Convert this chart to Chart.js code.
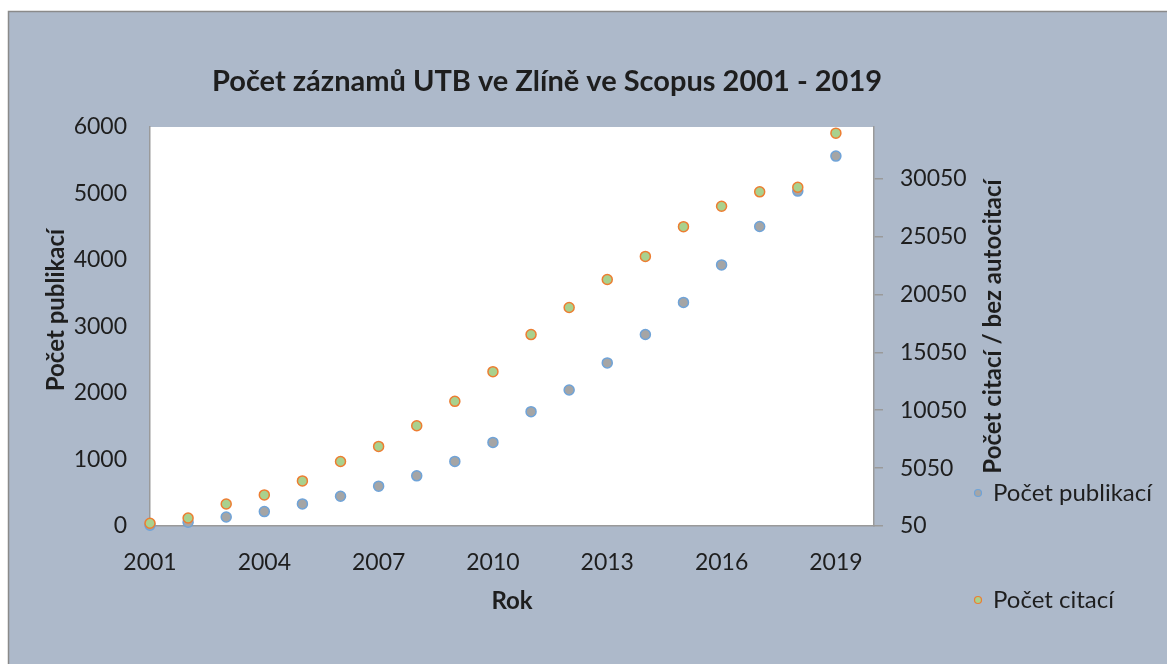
<!DOCTYPE html>
<html>
<head>
<meta charset="utf-8">
<script src="https://cdn.jsdelivr.net/npm/chart.js@4"></script>
<style>
  html, body { margin: 0; padding: 0; background: #fff; }
  #wrap { width: 1167px; height: 664px; }
</style>
</head>
<body>
<div id="wrap"><canvas id="scopusChart" width="1167" height="664"></canvas></div>
<script>
// data
const years = [2001, 2002, 2003, 2004, 2005, 2006, 2007, 2008, 2009, 2010,
               2011, 2012, 2013, 2014, 2015, 2016, 2017, 2018, 2019];
const publikace = [12, 56, 136, 217, 332, 448, 599, 754, 971, 1257,
                   1719, 2046, 2453, 2880, 3362, 3926, 4503, 5036, 5563];
const citace = [284, 742, 1954, 2732, 3943, 5623, 6921, 8703, 10815, 13376,
                16578, 18914, 21337, 23327, 25897, 27653, 28900, 29298, 33971];

// tick labels
const xTicks = [2001, 2004, 2007, 2010, 2013, 2016, 2019];
const leftTicks = [0, 1000, 2000, 3000, 4000, 5000, 6000];
const rightTicks = [50, 5050, 10050, 15050, 20050, 25050, 30050];

const titleText = 'Počet záznamů UTB ve Zlíně ve Scopus 2001 - 2019';
const leftTitle = 'Počet publikací';
const rightTitle = 'Počet citací / bez autocitací';
const legendLabels = ['Počet publikací', 'Počet citací'];

const FONT = 'Lato, "Open Sans", sans-serif';
const textColor = '#1e1e1e';
const axisColor = '#9a9a9a';

// frame, plot area, titles and legend
const decorations = {
    id: 'decorations',
    beforeDraw(chart) {
        const ctx = chart.ctx;
        const area = chart.chartArea;
        ctx.save();
        ctx.fillStyle = '#adb9ca';
        ctx.fillRect(8, 11, chart.width - 8, chart.height - 11);
        ctx.strokeStyle = '#8a8a8a';
        ctx.lineWidth = 1.5;
        ctx.beginPath();
        ctx.moveTo(8.5, chart.height);
        ctx.lineTo(8.5, 11.5);
        ctx.lineTo(chart.width, 11.5);
        ctx.stroke();
        ctx.fillStyle = '#ffffff';
        ctx.fillRect(area.left, area.top, area.right - area.left, area.bottom - area.top);
        ctx.restore();
    },
    afterDraw(chart) {
        const ctx = chart.ctx;
        const area = chart.chartArea;
        ctx.save();
        ctx.fillStyle = textColor;
        ctx.textBaseline = 'middle';

        ctx.font = 'bold 29px ' + FONT;
        ctx.textAlign = 'center';
        ctx.fillText(titleText, 547, 82);

        // vertical axis titles, both reading bottom to top
        ctx.font = 'bold 24px ' + FONT;
        [[leftTitle, 56, 310], [rightTitle, 993, (area.top + area.bottom) / 2]].forEach(t => {
            ctx.save();
            ctx.translate(t[1], t[2]);
            ctx.rotate(-Math.PI / 2);
            ctx.fillText(t[0], 0, 0);
            ctx.restore();
        });

        const markers = [
            { fill: '#a5a5a5', stroke: '#6fa3d8', y: 493 },
            { fill: '#a9d18e', stroke: '#ed7d31', y: 600 }
        ];
        ctx.font = '24px ' + FONT;
        ctx.textAlign = 'left';
        markers.forEach((m, i) => {
            ctx.beginPath();
            ctx.arc(978, m.y, 3.5, 0, Math.PI * 2);
            ctx.fillStyle = m.fill;
            ctx.fill();
            ctx.strokeStyle = m.stroke;
            ctx.lineWidth = 1.2;
            ctx.stroke();
            ctx.fillStyle = textColor;
            ctx.fillText(legendLabels[i], 993, m.y);
        });
        ctx.restore();
    }
};

const ctx = document.getElementById('scopusChart').getContext('2d');

new Chart(ctx, {
    type: 'scatter',
    data: {
        datasets: [
            {
                label: legendLabels[0],
                data: years.map((y, i) => ({ x: y, y: publikace[i] })),
                yAxisID: 'y',
                backgroundColor: '#a5a5a5',
                borderColor: '#6fa3d8',
                borderWidth: 1.5,
                pointRadius: 5,
                clip: false,
                order: 1
            },
            {
                label: legendLabels[1],
                data: years.map((y, i) => ({ x: y, y: citace[i] })),
                yAxisID: 'y2',
                backgroundColor: '#a9d18e',
                borderColor: '#ed7d31',
                borderWidth: 1.5,
                pointRadius: 5,
                clip: false,
                order: 0
            }
        ]
    },
    options: {
        responsive: false,
        animation: false,
        events: [],
        layout: { padding: { top: 127, left: 0, right: 0, bottom: 0 } },
        plugins: {
            legend: { display: false },
            title: { display: false },
            tooltip: { enabled: false }
        },
        scales: {
            x: {
                type: 'linear',
                position: 'bottom',
                min: 2001,
                max: 2020,
                afterBuildTicks: scale => { scale.ticks = xTicks.map(v => ({ value: v })); },
                afterFit: scale => { scale.height = 138; },
                grid: { display: false, drawTicks: false },
                border: { display: true, color: axisColor, width: 1.5 },
                ticks: {
                    padding: 23,
                    color: textColor,
                    font: { family: FONT, size: 23 },
                    maxRotation: 0,
                    callback: v => String(v)
                },
                title: {
                    display: true,
                    text: 'Rok',
                    color: textColor,
                    font: { family: FONT, size: 24, weight: 'bold' },
                    padding: { top: 0, bottom: 48 }
                }
            },
            y: {
                position: 'left',
                min: 0,
                max: 6000,
                afterBuildTicks: scale => { scale.ticks = leftTicks.map(v => ({ value: v })); },
                afterFit: scale => { scale.width = 150; },
                grid: { display: false, drawTicks: false },
                border: { display: true, color: axisColor, width: 1.5 },
                ticks: {
                    padding: 23,
                    color: textColor,
                    font: { family: FONT, size: 23 },
                    callback: v => String(v)
                }
            },
            y2: {
                position: 'right',
                min: 50,
                max: 34500,
                afterBuildTicks: scale => { scale.ticks = rightTicks.map(v => ({ value: v })); },
                afterFit: scale => { scale.width = 293; },
                grid: {
                    display: true,
                    drawOnChartArea: false,
                    drawTicks: true,
                    tickLength: 9,
                    color: axisColor,
                    lineWidth: 1.5
                },
                border: { display: true, color: axisColor, width: 1.5 },
                ticks: {
                    padding: 17,
                    color: textColor,
                    font: { family: FONT, size: 23 },
                    callback: v => String(v)
                }
            }
        }
    },
    plugins: [decorations]
});
</script>
</body>
</html>
